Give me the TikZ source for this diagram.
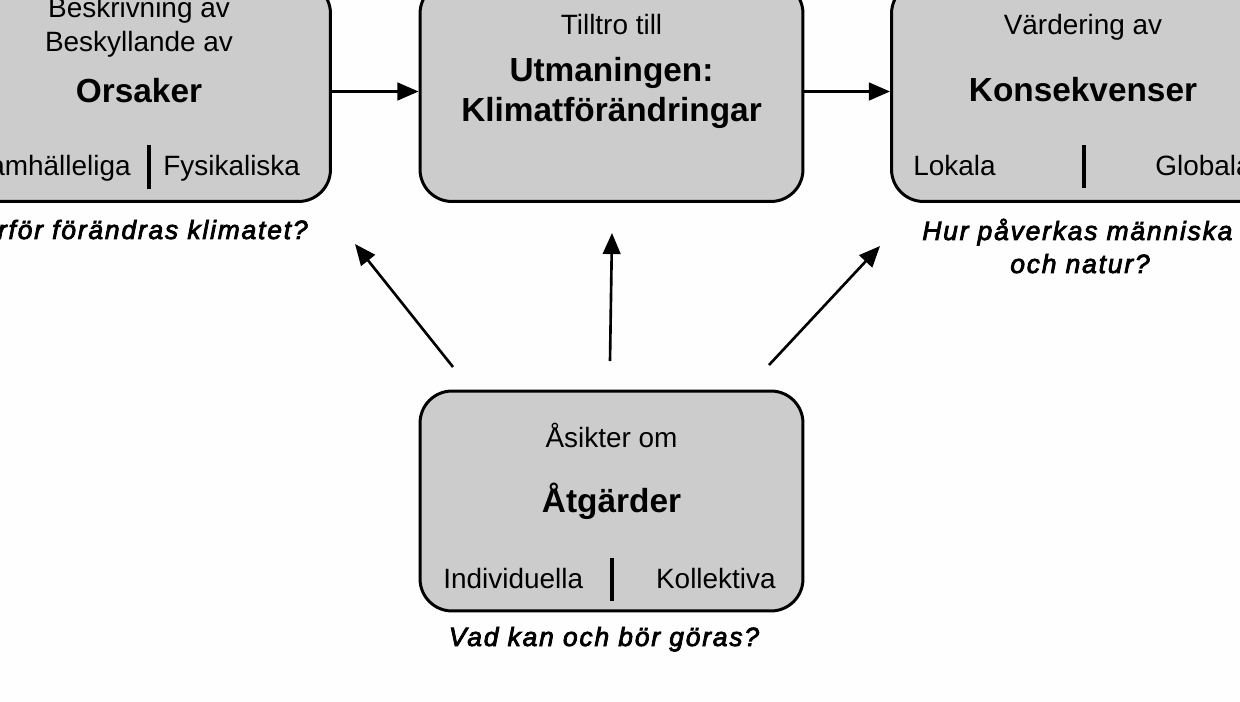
\documentclass[tikz,border=0pt]{standalone}
\usepackage{fontspec}
\setmainfont{Liberation Sans}
\usetikzlibrary{arrows.meta}
\definecolor{boxgray}{RGB}{204,204,204}
\definecolor{bgcol}{RGB}{253,254,253}
\begin{document}
\begin{tikzpicture}[x=0.02cm,y=-0.02cm,
  box/.style={draw=black, line width=1.7pt, fill=boxgray, rounded corners=0.64cm,
    minimum width=7.66cm, minimum height=4.4cm, inner sep=0pt},
  reg/.style={font=\fontsize{15.9}{19}\selectfont, inner sep=0pt},
  big/.style={font=\fontsize{19}{23}\selectfont\bfseries, inner sep=0pt},
  quest/.style={font=\fontsize{15}{18}\selectfont\itshape\addfontfeatures{LetterSpace=7,FakeBold=3}, inner sep=0pt},
  divider/.style={line width=1.8pt},
  arr/.style={line width=1.5pt, -{Triangle[length=12pt,width=10pt]}}]
\clip (0,0) rectangle (1240,702);
\fill[bgcol] (0,0) rectangle (1240,702);
% boxes
\node[box] (L) at (139,91.5) {};
\node[box] (M) at (611.5,91.5) {};
\node[box] (R) at (1083,91.5) {};
\node[box] (B) at (611.5,501) {};
% left box texts
\node[reg, anchor=base] (l1) at (139,18) {Beskrivning av};
\node[reg, anchor=base] (l2) at (139,52) {Beskyllande av};
\node[big, anchor=base] (l3) at (139,103) {Orsaker};
\node[reg, anchor=base east] (l4) at (131,176) {Samhälleliga};
\node[reg, anchor=base west] (l5) at (163,176) {Fysikaliska};
\draw[divider] (149,145) -- (149,189);
\node[quest, anchor=base east] (lq) at (308,239) {Varför förändras klimatet?};
% middle box texts
\node[reg, anchor=base] (m1) at (611.5,35) {Tilltro till};
\node[big, anchor=base] (m2) at (611.5,82) {Utmaningen:};
\node[big, anchor=base] (m3) at (611.5,122) {Klimatförändringar};
% right box texts
\node[reg, anchor=base] (r1) at (1083,35) {Värdering av};
\node[big, anchor=base] (r2) at (1083,102) {Konsekvenser};
\node[reg, anchor=base west] (r3) at (913,176) {Lokala};
\node[reg, anchor=base west] (r4) at (1155,176) {Globala};
\draw[divider] (1084,145) -- (1084,188);
\node[quest, anchor=base west] (rq1) at (922,240) {Hur påverkas människa};
\node[quest, anchor=base] (rq2) at (1080,273) {och natur?};
% bottom box texts
\node[reg, anchor=base] (b1) at (611.5,447) {Åsikter om};
\node[big, anchor=base] (b2) at (611.5,512) {Åtgärder};
\node[reg, anchor=base west] (b3) at (443,588) {Individuella};
\node[reg, anchor=base east] (b4) at (776,588) {Kollektiva};
\draw[divider] (612,558) -- (612,601);
\node[quest, anchor=base] (bq) at (604,646) {Vad kan och bör göras?};
% arrows
\draw[arr] (L.east) -- (M.west);
\draw[arr] (M.east) -- (R.west);
\coordinate (s1) at (453,367);
\coordinate (e1) at (355,244);
\coordinate (s2) at (610,361);
\coordinate (e2) at (612,233);
\coordinate (s3) at (769,365);
\coordinate (e3) at (880,246);
\draw[arr] (s1) -- (e1);
\draw[arr] (s2) -- (e2);
\draw[arr] (s3) -- (e3);
\end{tikzpicture}
\end{document}
